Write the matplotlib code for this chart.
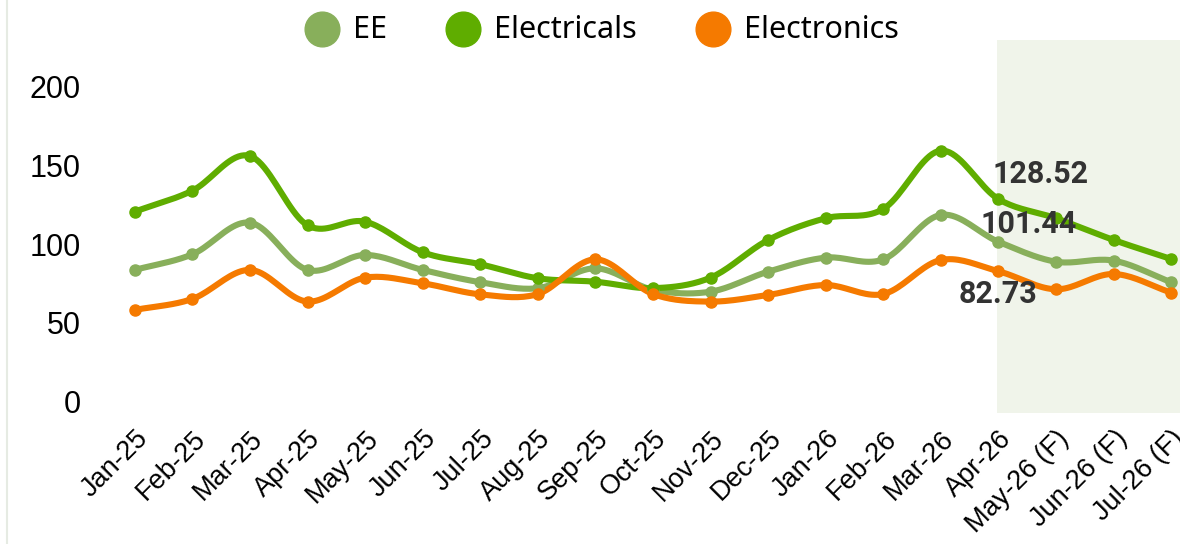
import numpy as np
import matplotlib
matplotlib.use("Agg")
import matplotlib.pyplot as plt
from matplotlib.lines import Line2D

# ---- data ----
months = ["Jan-25", "Feb-25", "Mar-25", "Apr-25", "May-25", "Jun-25", "Jul-25",
          "Aug-25", "Sep-25", "Oct-25", "Nov-25", "Dec-25", "Jan-26", "Feb-26",
          "Mar-26", "Apr-26", "May-26 (F)", "Jun-26 (F)", "Jul-26 (F)"]
ee = [83.6, 93.5, 113.6, 83.6, 93.1, 83.6, 75.8, 72.0, 84.6, 71.0, 69.8, 82.5,
      91.4, 90.3, 118.5, 101.44, 88.8, 89.5, 75.8]
electricals = [120.6, 133.9, 155.9, 111.9, 114.2, 94.8, 87.2, 78.3, 76.1, 72.0,
               78.7, 102.6, 116.4, 122.3, 159.3, 128.52, 116.4, 102.6, 90.5]
electronics = [58.2, 65.2, 83.6, 63.5, 78.7, 75.1, 68.1, 68.3, 90.3, 68.3, 63.5,
               67.7, 74.0, 68.3, 89.9, 82.73, 71.3, 81.0, 69.2]
series_names = ["EE", "Electricals", "Electronics"]
series_values = [ee, electricals, electronics]
series_colors = ["#88AF5B", "#5FAD00", "#F57A00"]
label_index = 15  # Apr-26 values are annotated
label_offsets = [(22, 13), (30, 18), (0, -16)]  # points (EE, Electricals, Electronics)
yticks = [0, 50, 100, 150, 200]
forecast_start = 15


def catmull_rom(x, y, n=20):
    x = np.asarray(x, float)
    y = np.asarray(y, float)
    px = np.concatenate([[2 * x[0] - x[1]], x, [2 * x[-1] - x[-2]]])
    py = np.concatenate([[2 * y[0] - y[1]], y, [2 * y[-1] - y[-2]]])
    xs, ys = [], []
    t = np.linspace(0, 1, n, endpoint=False)
    for i in range(1, len(px) - 2):
        p0, p1, p2, p3 = px[i - 1], px[i], px[i + 1], px[i + 2]
        q0, q1, q2, q3 = py[i - 1], py[i], py[i + 1], py[i + 2]
        c1x, c1y = p1 + (p2 - p0) / 6, q1 + (q2 - q0) / 6
        c2x, c2y = p2 - (p3 - p1) / 6, q2 - (q3 - q1) / 6
        b0 = (1 - t) ** 3
        b1 = 3 * (1 - t) ** 2 * t
        b2 = 3 * (1 - t) * t ** 2
        b3 = t ** 3
        xs.append(b0 * p1 + b1 * c1x + b2 * c2x + b3 * p2)
        ys.append(b0 * q1 + b1 * c1y + b2 * c2y + b3 * q2)
    xs.append([x[-1]])
    ys.append([y[-1]])
    return np.concatenate(xs), np.concatenate(ys)


W, H = 1180, 544
fig = plt.figure(figsize=(W / 100, H / 100), dpi=100)
fig.patch.set_facecolor("white")

# axes spans pixel x 106..1200 (cropped at right), y 40..413
left_px, right_px, top_px, bottom_px = 106, 1200, 40, 413
ax = fig.add_axes([left_px / W, 1 - bottom_px / H,
                   (right_px - left_px) / W, (bottom_px - top_px) / H])
ax.set_facecolor("none")
x = np.arange(len(months))
ax.set_xlim(-0.5, len(months) - 0.5)
ax.set_ylim(-7.2, 229.5)

ax.axvspan(forecast_start - 0.02, len(months) - 0.5, color="#F0F4EA", zorder=0, lw=0)

for name, vals, col in zip(series_names, series_values, series_colors):
    sx, sy = catmull_rom(x, vals)
    ax.plot(sx, sy, color=col, lw=4.4, solid_capstyle="round", zorder=2)
    ax.plot(x, vals, "o", color=col, ms=8, zorder=3)

for vals, (dx, dy) in zip(series_values, label_offsets):
    v = vals[label_index]
    ax.annotate(f"{v:.2f}", (x[label_index], v), xytext=(dx, dy),
                textcoords="offset points", ha="center", va="center",
                fontsize=22, fontweight="bold", color="#333333",
                family=["Roboto", "DejaVu Sans"], zorder=5)

for s in ax.spines.values():
    s.set_visible(False)
ax.set_yticks(yticks)
ax.set_yticklabels([str(v) for v in yticks], family="Liberation Sans", fontsize=22)
ax.tick_params(axis="y", length=0, pad=18)
ax.set_xticks(x)
ax.set_xticklabels(months, rotation=45, ha="right", rotation_mode="anchor",
                   family="Liberation Sans", fontsize=19.5)
ax.tick_params(axis="x", length=0, pad=9)

# legend (manual, figure coordinates)
legend_marker_px = [322, 463, 713]
for name, col, mx in zip(series_names, series_colors, legend_marker_px):
    fig.add_artist(Line2D([mx / W], [1 - 29 / H], marker="o", ms=25, color=col,
                          lw=0, transform=fig.transFigure))
    fig.text((mx + 31) / W, 1 - 30 / H, name, ha="left", va="center",
             fontsize=22, family="Noto Sans", color="black")

# faint left border
fig.add_artist(Line2D([7 / W, 7 / W], [0, 1], color="#E6EBE3", lw=1.5,
                      transform=fig.transFigure))

fig.savefig("out.png", dpi=100)
